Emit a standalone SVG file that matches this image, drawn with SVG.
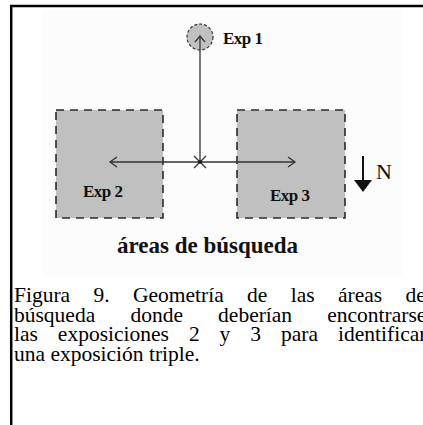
<svg xmlns="http://www.w3.org/2000/svg" width="423" height="425" viewBox="0 0 423 425">
<style>
.area{fill:#c0c0c0;stroke:#2a2a2a;stroke-width:1.6;stroke-dasharray:8 6}
.lbl{font-family:"Liberation Serif","Times New Roman",serif;font-weight:bold;font-size:17px;fill:#111;letter-spacing:-0.5px}
.ln{stroke:#333;stroke-width:1.3;fill:none}
.cap{font-family:"Liberation Serif","Times New Roman",serif;font-size:21.5px;fill:#000}
</style>
<rect x="0" y="0" width="423" height="425" fill="#fff"/>
<rect x="43" y="10" width="359" height="266" fill="#fcfcfc"/>
<g id="frame">
<line x1="10" y1="6" x2="423" y2="6" stroke="#000" stroke-width="2.5"/>
<line x1="11.2" y1="5" x2="11.2" y2="425" stroke="#000" stroke-width="2.5"/>
</g>
<g id="exp1">
<circle cx="200" cy="37" r="13" fill="#c0c0c0" stroke="#333" stroke-width="1.2" stroke-dasharray="3 2"/>
<text class="lbl" x="223" y="44">Exp 1</text>
</g>
<g id="exp2">
<rect class="area" x="56" y="110" width="107" height="108"/>
<text class="lbl" x="83" y="197">Exp 2</text>
</g>
<g id="exp3">
<rect class="area" x="237" y="110" width="108" height="108"/>
<text class="lbl" x="270" y="201">Exp 3</text>
</g>
<g id="connectors">
<line class="ln" x1="200" y1="162" x2="200" y2="36"/>
<polyline class="ln" points="195,42 200,36 205,42"/>
<line class="ln" x1="110" y1="162" x2="295" y2="162"/>
<polyline class="ln" points="117,157 110,162 117,167"/>
<polyline class="ln" points="288,157 295,162 288,167"/>
<line class="ln" x1="194" y1="156" x2="206" y2="168" stroke-width="1.5"/>
<line class="ln" x1="206" y1="156" x2="194" y2="168" stroke-width="1.5"/>
<circle cx="200" cy="162" r="1.8" fill="#111"/>
</g>
<g id="north">
<line x1="363" y1="156" x2="363" y2="182" stroke="#111" stroke-width="2"/>
<polygon points="354,180 372,180 363,192" fill="#111"/>
<text x="376" y="179" font-family="'Liberation Serif','Times New Roman',serif" font-size="22" fill="#111">N</text>
</g>
<text id="areas-label" x="117" y="253" font-family="'Liberation Serif','Times New Roman',serif" font-weight="bold" font-size="23" fill="#111">áreas de búsqueda</text>
<g id="caption">
<text class="cap" x="14" y="302" word-spacing="18">Figura 9. Geometría de las áreas de</text>
<text class="cap" x="14" y="321.5" word-spacing="29.8">búsqueda donde deberían encontrarse</text>
<text class="cap" x="14" y="341" word-spacing="14.6">las exposiciones 2 y 3 para identificar</text>
<text class="cap" x="14" y="360.5">una exposición triple.</text>
</g>
</svg>
